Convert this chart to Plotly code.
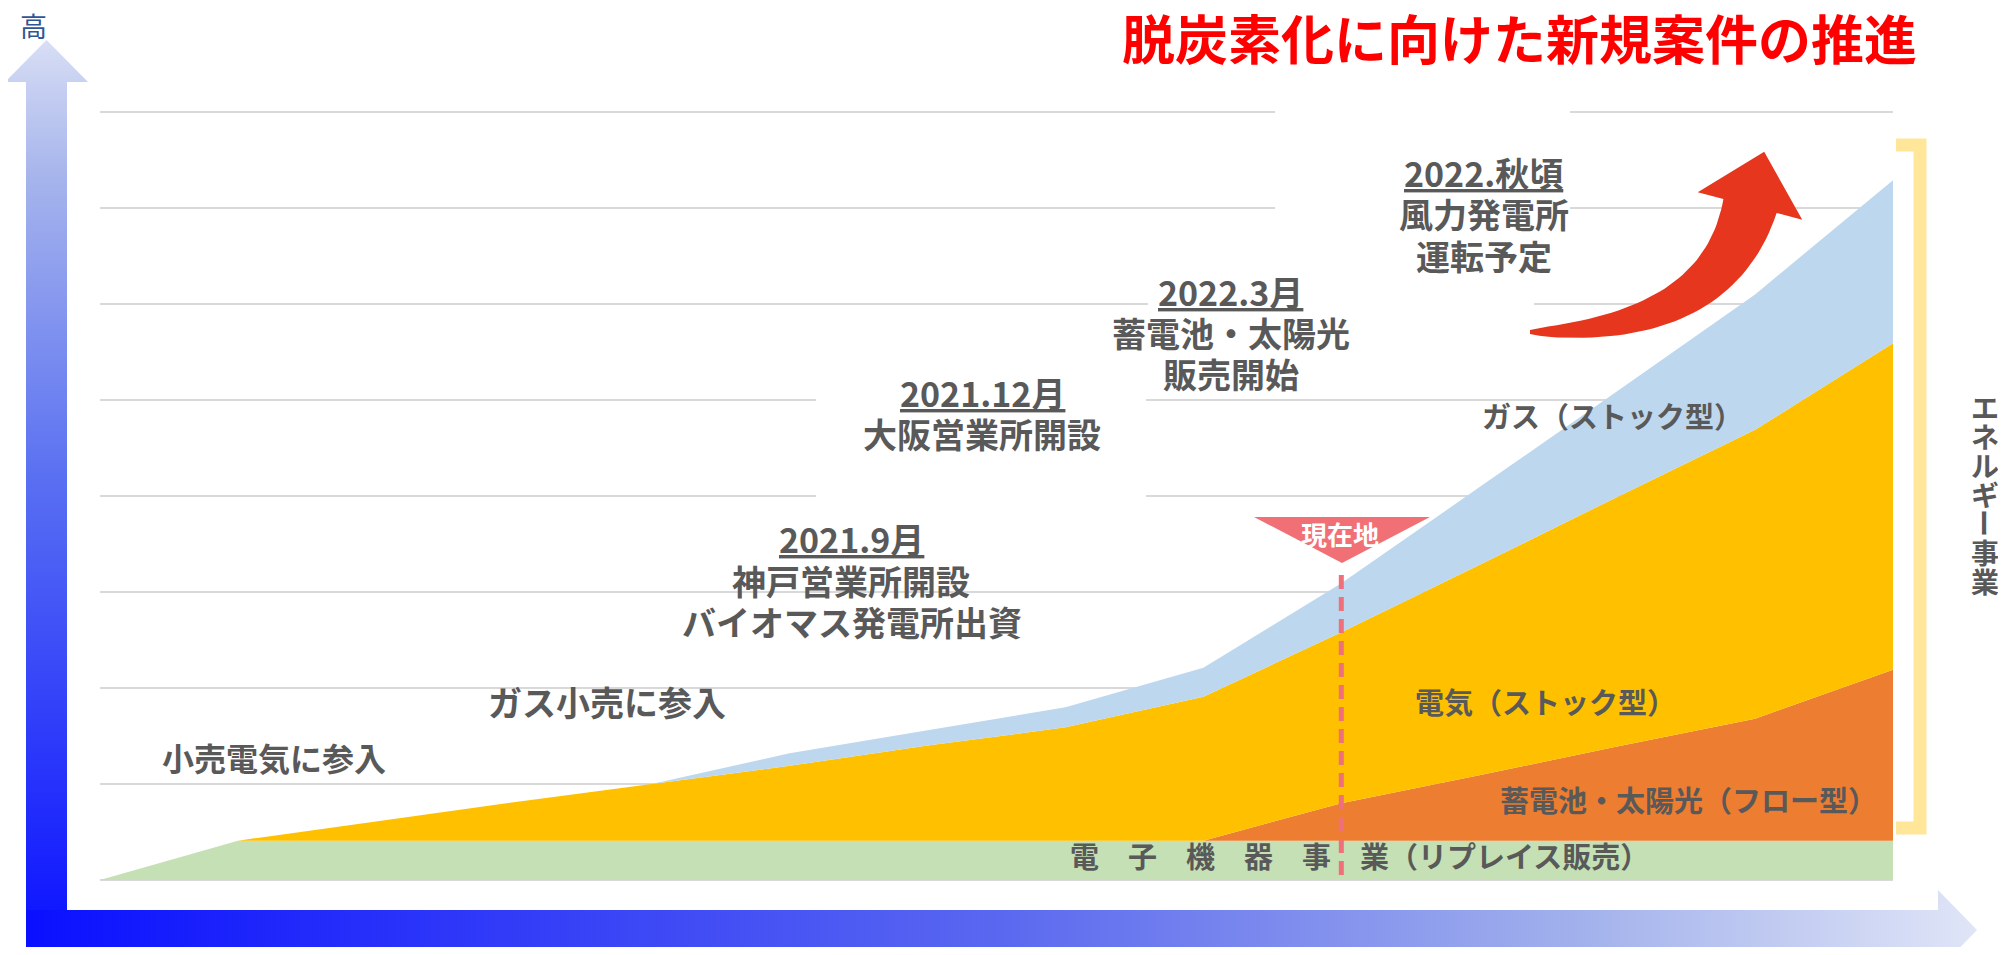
import math
import plotly.graph_objects as go

W, H = 2006, 955          # screenshot canvas
OFF = 8                   # default page margin around the plot div
FW, FH = W - 2 * OFF, H - 2 * OFF
FONT = "Noto Sans CJK JP"
GREY = "#595959"

# stacked thickness of each business, in gridline units
periods = [0, 1, 2, 3, 4, 5, 6, 7, 8, 9, 10, 11, 12, 13]
electronics = [0, 0.41, 0.41, 0.41, 0.41, 0.41, 0.41, 0.41, 0.41, 0.41, 0.41, 0.41, 0.41, 0.41]
battery_solar = [0, 0, 0, 0, 0, 0, 0, 0, 0, 0.39, 0.68, 0.98, 1.27, 1.78]
electricity = [0, 0, 0.20, 0.40, 0.59, 0.78, 0.99, 1.18, 1.50, 1.78, 2.19, 2.60, 3.01, 3.40]
gas = [0, 0, 0, 0, 0, 0.13, 0.16, 0.21, 0.30, 0.51, 0.81, 1.10, 1.41, 1.70]

series = [
    ("電子機器事業", electronics, "#C5E0B4"),
    ("蓄電池・太陽光", battery_solar, "#ED7D31"),
    ("電気", electricity, "#FFC000"),
    ("ガス", gas, "#BDD7EE"),
]

now_period = 9

# plot area in canvas pixels
X0, X1, Y0, UNIT = 100, 1893, 880, 96
STEP = (X1 - X0) / (len(periods) - 1)


def dx(p):
    return (p - X0) / STEP


def dy(p):
    return (Y0 - p) / UNIT


def py(p):
    return H - p


fig = go.Figure()

for name, vals, col in series:
    fig.add_trace(go.Scatter(x=periods, y=vals, name=name, stackgroup="s",
                             mode="lines", line=dict(width=0), fillcolor=col,
                             hoverinfo="skip", showlegend=False))

# axis arrows (decoration, pixel space)
vx = [26, 26, 5, 46.5, 88, 67, 67]
vy = [910, 82, 82, 40, 82, 82, 910]
fig.add_trace(go.Scatter(x=vx, y=[py(v) for v in vy], fill="toself", mode="lines",
                         line=dict(width=0), xaxis="x2", yaxis="y2", hoverinfo="skip",
                         showlegend=False,
                         fillgradient=dict(type="vertical",
                                           colorscale=[[0, "#1018FF"], [0.5, "#5A70F2"],
                                                       [0.85, "#A8B6EC"], [1, "#D8DEF5"]])))
hx = [26, 1938, 1938, 1977, 1938, 1938, 26]
hy = [910, 910, 890, 930, 970, 950, 950]
fig.add_trace(go.Scatter(x=hx, y=[py(v) for v in hy], fill="toself", mode="lines",
                         line=dict(width=0), xaxis="x2", yaxis="y2", hoverinfo="skip",
                         showlegend=False,
                         fillgradient=dict(type="horizontal",
                                           colorscale=[[0, "#0A10FF"], [0.5, "#5A68F0"],
                                                       [0.8, "#A3B2EC"], [1, "#E0E5F7"]])))

# red curved arrow: tapered quadratic curve plus a triangular head
p0, p1, p2 = (1530, 332), (1717, 332), (1750, 206)
upper, lower = [], []
for i in range(41):
    t = i / 40
    cx = (1 - t) ** 2 * p0[0] + 2 * (1 - t) * t * p1[0] + t * t * p2[0]
    cy = (1 - t) ** 2 * p0[1] + 2 * (1 - t) * t * p1[1] + t * t * p2[1]
    tx = 2 * (1 - t) * (p1[0] - p0[0]) + 2 * t * (p2[0] - p1[0])
    ty = 2 * (1 - t) * (p1[1] - p0[1]) + 2 * t * (p2[1] - p1[1])
    n = math.hypot(tx, ty)
    nx, ny = ty / n, -tx / n
    half = (4 + 51 * t ** 0.7) / 2
    upper.append((cx + nx * half, cy + ny * half))
    lower.append((cx - nx * half, cy - ny * half))
tx, ty = p2[0] - p1[0], p2[1] - p1[1]
n = math.hypot(tx, ty)
ux, uy = tx / n, ty / n
head = [(p2[0] + uy * 54, p2[1] - ux * 54),
        (p2[0] + ux * 56, p2[1] + uy * 56),
        (p2[0] - uy * 54, p2[1] + ux * 54)]
outline = upper + head + lower[::-1]
fig.add_trace(go.Scatter(x=[p[0] for p in outline], y=[py(p[1]) for p in outline],
                         fill="toself", mode="lines", line=dict(width=0),
                         fillcolor="#E6361D", xaxis="x2", yaxis="y2",
                         hoverinfo="skip", showlegend=False))

# yellow bracket
fig.add_trace(go.Scatter(x=[1896, 1920, 1920, 1896], y=[py(145), py(145), py(828), py(828)],
                         mode="lines", line=dict(color="#FFE699", width=13),
                         xaxis="x2", yaxis="y2", hoverinfo="skip", showlegend=False))

shapes = []
# white label boxes hiding the gridlines
for x_a, x_b, y_a, y_b in [(816, 1146, 370, 505), (1148, 1534, 240, 385), (1275, 1570, 95, 250)]:
    shapes.append(dict(type="rect", xref="x", yref="y", layer="between",
                       x0=dx(x_a), x1=dx(x_b), y0=dy(y_b), y1=dy(y_a),
                       fillcolor="white", line=dict(width=0)))
# current position marker
shapes.append(dict(type="path", xref="x", yref="y", layer="between",
                   path=f"M {dx(1254)},{dy(517)} L {dx(1430)},{dy(517)} L {dx(1342)},{dy(563)} Z",
                   fillcolor="#F07075", line=dict(width=0)))
shapes.append(dict(type="line", xref="x", yref="y", layer="above",
                   x0=now_period, x1=now_period, y0=dy(875), y1=dy(569),
                   line=dict(color="#F0707A", width=5, dash="14px,8px")))

annotations = []


def label(text, x, y, size, color=GREY, bold=True, angle=0):
    annotations.append(dict(text=f"<b>{text}</b>" if bold else text, x=x, y=py(y),
                            xref="x2", yref="y2", showarrow=False, textangle=angle,
                            xanchor="center", yanchor="middle",
                            font=dict(family=FONT, size=size, color=color)))


label("脱炭素化に向けた新規案件の推進", 1519, 37, 53, color="#FF0000")
label("高", 33, 25, 27, color="#2F5597", bold=False)

label("小売電気に参入", 274, 757, 32)
label("ガス小売に参入", 607, 701, 34)

label("<u>2021.9月</u>", 851, 538, 34)
label("神戸営業所開設", 851, 580, 34)
label("バイオマス発電所出資", 852, 621, 34)

label("<u>2021.12月</u>", 982, 392, 34)
label("大阪営業所開設", 982, 433, 34)

label("<u>2022.3月</u>", 1230, 291, 34)
label("蓄電池・太陽光", 1231, 332, 34)
label("販売開始", 1231, 373, 34)

label("<u>2022.秋頃</u>", 1483, 172, 34)
label("風力発電所", 1484, 213, 34)
label("運転予定", 1484, 255, 34)

label("ガス（ストック型）", 1612, 415, 29)
label("電気（ストック型）", 1545, 701, 29)
label("蓄電池・太陽光（フロー型）", 1688, 799, 29)
label("電　子　機　器　事　業（リプレイス販売）", 1359, 855, 29)

label("現在地", 1340, 533, 26, color="white")

for i, ch in enumerate("エネルギー事業"):
    label(ch, 1985, 407 + 29 * i, 28, angle=90 if ch == "ー" else 0)

pad = 0.02
y_bot = Y0 + pad * UNIT - OFF
y_top = Y0 - (8 + pad) * UNIT - OFF
fig.update_layout(
    width=FW, height=FH,
    margin=dict(l=0, r=0, t=0, b=0),
    paper_bgcolor="white",
    plot_bgcolor="rgba(0,0,0,0)",
    showlegend=False,
    xaxis=dict(domain=[(X0 - OFF) / FW, (X1 - OFF) / FW], range=[0, 13],
               visible=False, fixedrange=True),
    yaxis=dict(domain=[(FH - y_bot) / FH, (FH - y_top) / FH],
               range=[-pad, 8 + pad], showgrid=True, gridcolor="#D9D9D9", gridwidth=2,
               tick0=0, dtick=1, showticklabels=False, zeroline=False, showline=False,
               ticks="", fixedrange=True),
    xaxis2=dict(domain=[0, 1], range=[OFF, W - OFF], visible=False, anchor="y2",
                fixedrange=True),
    yaxis2=dict(domain=[0, 1], range=[OFF, H - OFF], visible=False, anchor="x2",
                fixedrange=True),
    shapes=shapes,
    annotations=annotations,
)

fig.write_html("out.html")
